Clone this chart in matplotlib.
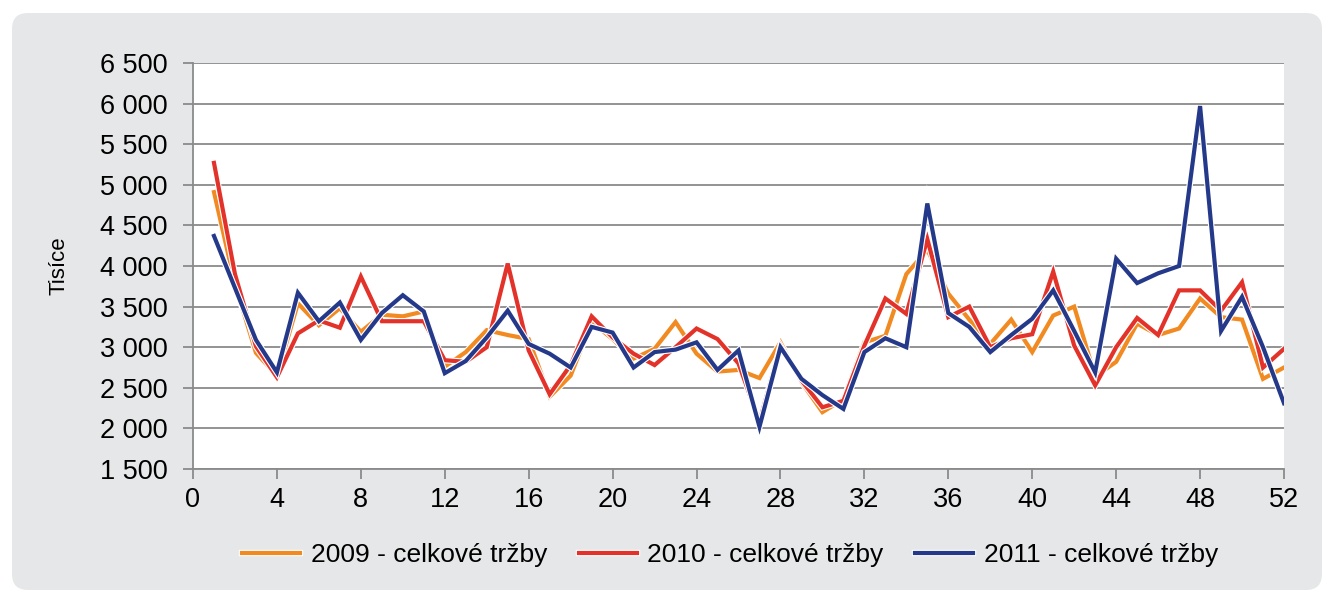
import numpy as np
import matplotlib.pyplot as plt
import matplotlib.patheffects as pe
from matplotlib.patches import FancyBboxPatch

plt.rcParams['font.family'] = ['Liberation Sans', 'DejaVu Sans']

# Weekly sales (thousands)
weeks = np.arange(1, 53)
sales_2009 = [4910, 3780, 2930, 2650, 3540, 3270, 3480, 3190, 3400, 3380,
              3440, 2760, 2940, 3210, 3150, 3100, 2390, 2650, 3310, 3100,
              2860, 2980, 3310, 2920, 2700, 2720, 2620, 3060, 2570, 2200,
              2360, 3060, 3140, 3900, 4200, 3660, 3340, 3040, 3340, 2940,
              3390, 3500, 2640, 2820, 3290, 3150, 3230, 3600, 3370, 3340,
              2610, 2750]
sales_2010 = [5270, 3900, 3010, 2630, 3170, 3330, 3240, 3870, 3320, 3320,
              3320, 2840, 2820, 3000, 4030, 2960, 2420, 2780, 3380, 3120,
              2920, 2780, 3000, 3230, 3100, 2800, 2080, 3020, 2590, 2260,
              2340, 3020, 3600, 3410, 4330, 3370, 3500, 3000, 3110, 3160,
              3930, 3020, 2530, 3000, 3360, 3150, 3700, 3700, 3450, 3800,
              2750, 2980]
sales_2011 = [4370, 3730, 3090, 2690, 3670, 3320, 3550, 3090, 3420, 3640,
              3440, 2680, 2830, 3120, 3450, 3040, 2920, 2750, 3250, 3180,
              2750, 2940, 2970, 3060, 2720, 2960, 2020, 3000, 2610, 2410,
              2240, 2940, 3110, 3000, 4770, 3420, 3250, 2940, 3150, 3350,
              3700, 3200, 2690, 4090, 3790, 3910, 4000, 5970, 3200, 3620,
              3000, 2310]

labels = ['2009 - celkové tržby', '2010 - celkové tržby', '2011 - celkové tržby']
colors = ['#f28a22', '#e2322a', '#25398a']

fig = plt.figure(figsize=(13.24, 5.93), dpi=100)
fig.patch.set_facecolor('white')

# Grey rounded panel behind the chart (pixel coordinates, origin bottom-left)
panel = FancyBboxPatch((12, 3), 1310, 593 - 13 - 3,
                       boxstyle='round,pad=0,rounding_size=16',
                       transform=None, facecolor='#e6e7e8',
                       edgecolor='none', zorder=-5)
fig.patches.append(panel)

ax = fig.add_axes([193 / 1324, 1 - 469 / 593, (1284 - 193) / 1324, (469 - 63) / 593])
ax.set_facecolor('white')

for series, lab, col in zip([sales_2009, sales_2010, sales_2011], labels, colors):
    ax.plot(weeks, series, color=col, lw=3.0, label=lab, solid_joinstyle='miter',
            path_effects=[pe.Stroke(linewidth=4.6, foreground='white'), pe.Normal()])

ax.set_xlim(0, 52)
ax.set_ylim(1500, 6500)
ax.set_xticks(np.arange(0, 53, 4))
ax.set_yticks(np.arange(1500, 6501, 500))
ax.set_yticklabels([f'{v:,}'.replace(',', ' ') for v in range(1500, 6501, 500)])

ax.grid(axis='y', color='#8a8a8a', lw=1.3)
ax.set_axisbelow(True)
for s in ['top', 'right']:
    ax.spines[s].set_visible(False)
for s in ['left', 'bottom']:
    ax.spines[s].set_color('#8a8a8a')
    ax.spines[s].set_linewidth(1.3)
ax.tick_params(axis='both', colors='#8a8a8a', labelcolor='black', labelsize=19.5,
               length=7, width=1.3)
ax.tick_params(axis='y', pad=11)
ax.tick_params(axis='x', pad=6)

ax.set_ylabel('Tisíce', fontsize=16, labelpad=22)

fig.legend(loc='center', bbox_to_anchor=(730 / 1324, 1 - 555 / 593), ncol=3,
           frameon=False, fontsize=19, handlelength=2.2, columnspacing=1.2,
           handletextpad=0.4)

fig.savefig('out.png', dpi=100, facecolor=fig.get_facecolor())
